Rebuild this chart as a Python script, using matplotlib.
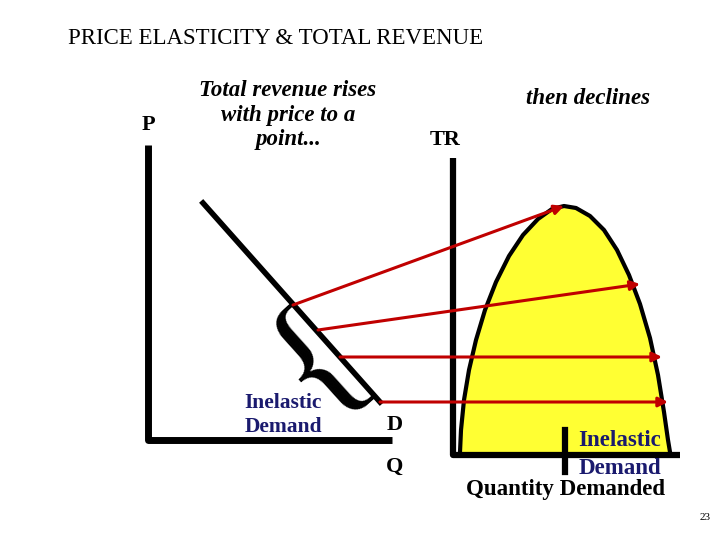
import matplotlib.pyplot as plt
import numpy as np

# picture coordinates in pixels (x right, y down)
demand_x = [203, 380]
demand_y = [203, 402]
left_axis_x = [148, 148, 392]
left_axis_y = [145, 440, 440]
right_axis_x = [453, 453, 680]
right_axis_y = [158, 455, 455]
tr_x = [460, 461, 464, 469, 476, 485, 496, 509, 523, 538, 552, 564, 576, 590, 604,
        617, 629, 640, 650, 658, 664, 668, 670]
tr_y = [452, 430, 400, 370, 340, 310, 282, 256, 235, 219, 209, 206, 208, 216, 230,
        250, 275, 304, 338, 375, 412, 440, 452]
arrow_start = [(293, 305), (318, 330), (340, 357), (380, 402)]
arrow_end = [(564, 206), (640, 284), (662, 357), (668, 402)]

serif = 'Liberation Serif'
navy = '#1a1a6e'

fig = plt.figure(figsize=(7.2, 5.4), dpi=100)
ax = fig.add_axes([0, 0, 1, 1])
ax.set_xlim(0, 720)
ax.set_ylim(540, 0)
ax.axis('off')

ax.fill(tr_x, tr_y, color='#ffff33', zorder=1)
ax.plot(tr_x, tr_y, color='black', lw=3, zorder=2)
ax.plot(left_axis_x, left_axis_y, color='black', lw=5, solid_capstyle='butt', zorder=3)
ax.plot(right_axis_x, right_axis_y, color='black', lw=4.5, solid_capstyle='butt', zorder=3)
ax.plot(demand_x, demand_y, color='black', lw=4, zorder=3)
ax.plot([565, 565], [430, 472], color='black', lw=4.5, zorder=3)

for s, e in zip(arrow_start, arrow_end):
    ax.annotate('', xy=e, xytext=s,
                arrowprops=dict(arrowstyle='-|>', color='#c00000', lw=2.2,
                                mutation_scale=14, shrinkA=0, shrinkB=0), zorder=4)

ax.text(318, 362, '{', family=serif, fontsize=110, rotation=42,
        ha='center', va='center', zorder=3)

ax.text(68, 38, 'PRICE ELASTICITY & TOTAL REVENUE', family=serif, fontsize=16.5,
        ha='left', va='center')
ax.text(148, 125, 'P', family=serif, fontsize=16, fontweight='bold', ha='center', va='center')
ax.text(288, 115, 'Total revenue rises\nwith price to a\npoint...', family=serif,
        fontsize=16.5, fontstyle='italic', fontweight='bold', ha='center', va='center',
        linespacing=1.25)
ax.text(588, 99, 'then declines', family=serif, fontsize=16.5, fontstyle='italic',
        fontweight='bold', ha='center', va='center')
ax.text(445, 140, 'TR', family=serif, fontsize=16, fontweight='bold', ha='center', va='center')
ax.text(283, 415, 'Inelastic\nDemand', family=serif, fontsize=15.5, fontweight='bold',
        color=navy, ha='center', va='center', linespacing=1.2)
ax.text(395, 425, 'D', family=serif, fontsize=16, fontweight='bold', ha='center', va='center')
ax.text(395, 467, 'Q', family=serif, fontsize=16, fontweight='bold', ha='center', va='center')
ax.text(620, 440, 'Inelastic', family=serif, fontsize=16.5, fontweight='bold', color=navy,
        ha='center', va='center')
ax.text(620, 468, 'Demand', family=serif, fontsize=16.5, fontweight='bold', color=navy,
        ha='center', va='center')
ax.text(565, 489, 'Quantity Demanded', family=serif, fontsize=16.5, fontweight='bold',
        ha='center', va='center')
ax.text(705, 517, '23', family=serif, fontsize=8, ha='center', va='center')

fig.savefig('out.png', dpi=100)
